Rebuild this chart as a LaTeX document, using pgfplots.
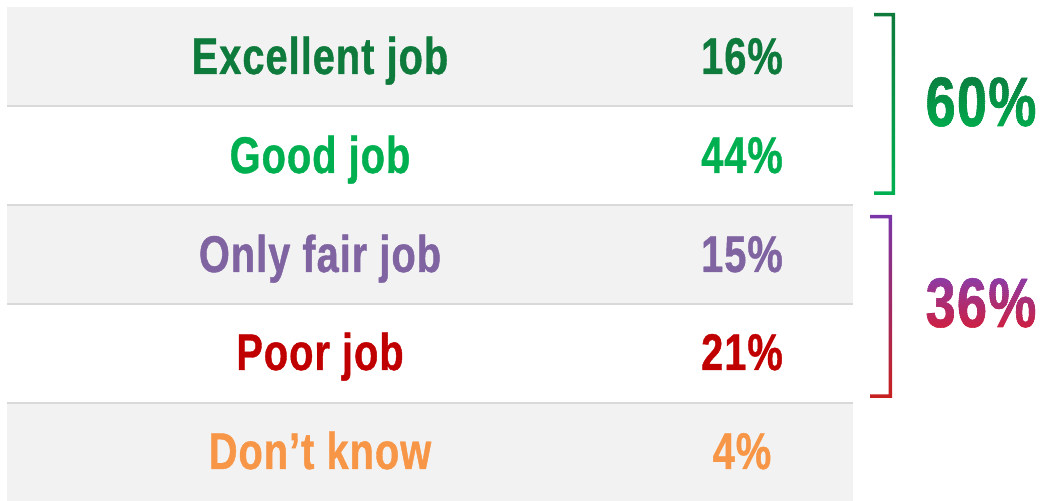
\documentclass[border=0pt]{standalone}
\usepackage{fontspec}
\setmainfont{Liberation Sans}[FakeStretch=0.77, LetterSpace=2, BoldFeatures={FakeBold=0.8}]
\usepackage{pgfplots}
\pgfplotsset{compat=1.18}
\usetikzlibrary{calc}
\definecolor{cExc}{HTML}{0E7A3C}
\definecolor{cGood}{HTML}{00B050}
\definecolor{cFair}{HTML}{8064A2}
\definecolor{cPoor}{HTML}{C00000}
\definecolor{cDK}{HTML}{F79646}
\definecolor{cBg}{HTML}{F2F2F2}
\definecolor{cLine}{HTML}{D9D9D9}
\definecolor{cPurp}{HTML}{7A35A8}
\definecolor{cRed}{HTML}{C8201E}
\definecolor{tSixTop}{HTML}{0B8040}
\definecolor{tSixBot}{HTML}{00A84C}
\definecolor{tThTop}{HTML}{8E3AA2}
\definecolor{tThBot}{HTML}{CC2043}
\newcommand\lab{\fontsize{25.8}{30}\selectfont\bfseries}
\newcommand\bigf{\fontsize{35}{40}\selectfont\bfseries}
% text with vertical colour gradient, built from horizontal clipped bands
\newcommand\gradtext[3]{%
 \begin{tikzpicture}[baseline=(B.base)]
  \node[anchor=center, inner sep=0pt, outer sep=0pt, font=\bigf, text opacity=0] (B) at (0,0) {#1};
  \foreach \i in {0,...,23} {
    \pgfmathtruncatemacro\p{100*\i/23}
    \colorlet{gtc}{#2!\p!#3}
    \begin{scope}
      \clip ([xshift=-3pt]$(B.south west)!\i/24!(B.north west)$) rectangle
            ([xshift=3pt]$(B.south east)!{(\i+1.15)/24}!(B.north east)$);
      \node[anchor=center, inner sep=0pt, outer sep=0pt, font=\bigf, text=gtc] at (0,0) {#1};
    \end{scope}
  }
 \end{tikzpicture}}
\newcommand\rowlab[4]{%
 \addplot[draw=none, mark=none, nodes near coords={#2},
   every node near coord/.append style={anchor=base, text=#4, font=\lab, inner sep=0pt}]
   coordinates {(320,#1)};
 \addplot[draw=none, mark=none, point meta=explicit,
   nodes near coords={\pgfmathprintnumber[assume math mode=true]{\pgfplotspointmeta}\%},
   every node near coord/.append style={anchor=base, text=#4, font=\lab, inner sep=0pt}]
   coordinates {(742,#1) [#3]};
}
\begin{document}
\begin{tikzpicture}
\begin{axis}[hide axis, scale only axis, width=520pt, height=250.5pt,
  xmin=0, xmax=1040, ymin=0, ymax=501, y dir=reverse, clip=false]
% row backgrounds
\addplot[fill=cBg, draw=none] coordinates {(7,7) (853,7) (853,106) (7,106)} -- cycle;
\addplot[fill=cBg, draw=none] coordinates {(7,205) (853,205) (853,304) (7,304)} -- cycle;
\addplot[fill=cBg, draw=none] coordinates {(7,403) (853,403) (853,501) (7,501)} -- cycle;
% separators
\addplot[cLine, line width=1pt] coordinates {(7,106) (853,106)};
\addplot[cLine, line width=1pt] coordinates {(7,205) (853,205)};
\addplot[cLine, line width=1pt] coordinates {(7,304) (853,304)};
\addplot[cLine, line width=1pt] coordinates {(7,403) (853,403)};
% rows
\rowlab{74}{Excellent job}{16}{cExc}
\rowlab{173}{Good job}{44}{cGood}
\rowlab{272}{Only fair job}{15}{cFair}
\rowlab{370}{Poor job}{21}{cPoor}
\rowlab{469}{Don’t know}{4}{cDK}
% brackets
\addplot[draw=none, top color=cExc, bottom color=cGood] coordinates
 {(874,13) (895,13) (895,195) (874,195) (874,191.5) (891.5,191.5) (891.5,16.5) (874,16.5)} -- cycle;
\addplot[draw=none, top color=cPurp, bottom color=cRed] coordinates
 {(870,215) (892,215) (892,398) (870,398) (870,394.5) (888.5,394.5) (888.5,218.5) (870,218.5)} -- cycle;
% totals
\addplot[draw=none, mark=none, point meta=explicit,
   nodes near coords={\gradtext{\pgfmathprintnumber[assume math mode=true]{\pgfplotspointmeta}\%}{tSixTop}{tSixBot}},
   every node near coord/.append style={anchor=base, inner sep=0pt}]
   coordinates {(981,126) [60]};
\addplot[draw=none, mark=none, point meta=explicit,
   nodes near coords={\gradtext{\pgfmathprintnumber[assume math mode=true]{\pgfplotspointmeta}\%}{tThTop}{tThBot}},
   every node near coord/.append style={anchor=base, inner sep=0pt}]
   coordinates {(981,327) [36]};
\end{axis}
\pgfresetboundingbox
\path (current axis.south west) rectangle (current axis.north east);
\end{tikzpicture}
\end{document}
